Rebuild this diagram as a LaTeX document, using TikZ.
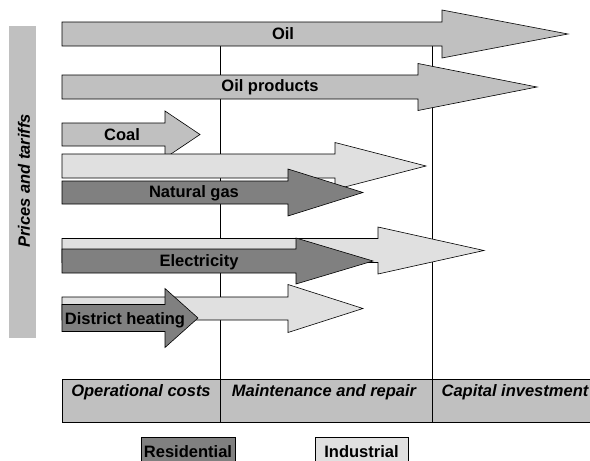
\documentclass[tikz,border=0pt]{standalone}
\usepackage{fontspec}
\setmainfont{Liberation Sans}
\usepackage{tikz,xcolor}

\definecolor{basegray}{HTML}{C0C0C0}
\definecolor{indgray}{HTML}{E0E0E0}
\definecolor{resgray}{HTML}{808080}

% #1 style, #2 left, #3 head start, #4 tip, #5 centre y, #6 half body, #7 half head
\newcommand{\fuelarrow}[7]{%
	\draw[#1] (#2,#5-#6) -- (#3,#5-#6) -- (#3,#5-#7) -- (#4,#5)
		-- (#3,#5+#7) -- (#3,#5+#6) -- (#2,#5+#6) -- cycle;}

\begin{document}
\begin{tikzpicture}[x=1pt, y=-1pt,
	font=\fontsize{16.5}{18}\selectfont\bfseries,
	arrowbase/.style={draw=black, line width=0.6pt, fill=basegray},
	arrowind/.style={draw=black, line width=0.6pt, fill=indgray},
	arrowres/.style={draw=black, line width=0.6pt, fill=resgray},
	costlabel/.style={font=\fontsize{16.5}{18}\selectfont\bfseries\itshape}]

	\useasboundingbox (0,0) rectangle (590,461);
	\clip (0,0) rectangle (590,461);

	% side bar
	\fill[basegray] (9,26) rectangle (36,338);
	\node[rotate=90, costlabel] (prices) at (24,181) {Prices and tariffs};

	% column dividers
	\draw[line width=0.8pt] (220,22) -- (220,422);
	\draw[line width=0.8pt] (432,22) -- (432,422);

	\fuelarrow{arrowbase}{62}{442}{568}{34}{12}{24}
	\node (oil) at (283,34) {Oil};

	\fuelarrow{arrowbase}{62}{418}{537}{87}{12}{23.5}
	\node (oilprod) at (270,87) {Oil products};

	\fuelarrow{arrowbase}{62}{165}{200}{134.5}{11.5}{23.5}
	\node (coal) at (122,135) {Coal};

	\fuelarrow{arrowind}{62}{335}{426}{166}{12}{23.5}
	\fuelarrow{arrowres}{62}{288}{363}{192.5}{11.5}{23.5}
	\node (gas) at (194,193) {Natural gas};

	\fuelarrow{arrowind}{62}{378}{484}{250.5}{12}{23.5}
	\fuelarrow{arrowres}{62}{296}{373}{261}{12}{23}
	\node (elec) at (199,262) {Electricity};

	\fuelarrow{arrowind}{62}{288}{363}{308.5}{11.5}{24}
	\fuelarrow{arrowres}{62}{165}{198}{318}{13.5}{29.5}
	\node (heat) at (125,320) {District heating};

	% cost categories
	\draw[line width=0.8pt, fill=basegray] (62,379) rectangle (600,422);
	\draw[line width=0.8pt] (220,379) -- (220,422);
	\draw[line width=0.8pt] (432,379) -- (432,422);
	\node[costlabel] (opcost) at (141,392) {Operational costs};
	\node[costlabel] (maint) at (324,392) {Maintenance and repair};
	\node[costlabel] (capinv) at (515,392) {Capital investment};

	% legend
	\draw[line width=0.6pt, fill=resgray] (141,437) rectangle (235,475);
	\node (resid) at (188,452) {Residential};
	\draw[line width=0.6pt, fill=indgray] (315,437) rectangle (408,475);
	\node (indus) at (361.5,452) {Industrial};

\end{tikzpicture}
\end{document}
